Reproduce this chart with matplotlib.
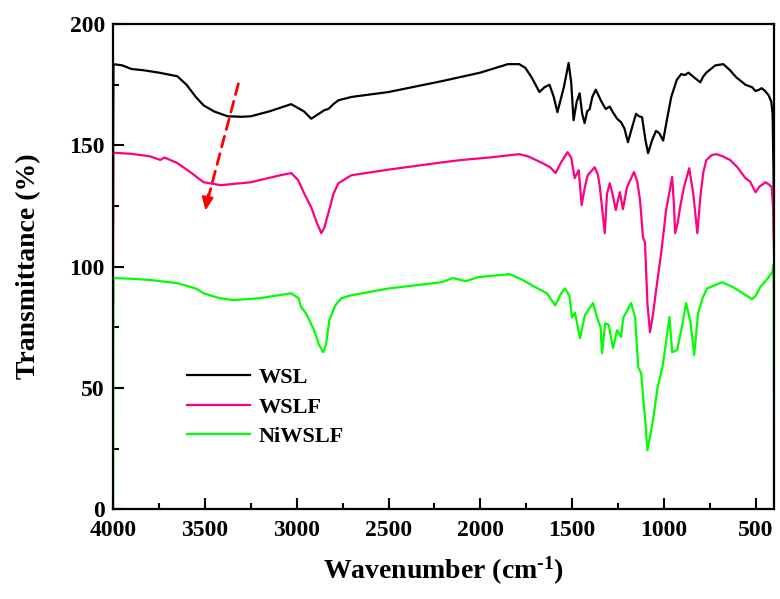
import matplotlib
matplotlib.use("Agg")
from matplotlib import pyplot as plt
from matplotlib.ticker import MultipleLocator

plt.rcParams['font.family'] = ['Liberation Serif', 'DejaVu Serif']
plt.rcParams['font.weight'] = 'bold'
plt.rcParams['mathtext.fontset'] = 'custom'
plt.rcParams['mathtext.rm'] = 'Liberation Serif:bold'
plt.rcParams['mathtext.bf'] = 'Liberation Serif:bold'
plt.rcParams['mathtext.default'] = 'bf'

# WSL (black)
wn_wsl = [4000, 3998, 3950, 3900, 3836, 3750, 3650, 3600, 3550, 3507, 3450, 3376,
          3300, 3250, 3150, 3030, 2960, 2921, 2880, 2850, 2828, 2800, 2773, 2700,
          2500, 2209, 2000, 1850, 1788, 1755, 1720, 1678, 1650, 1623, 1600, 1580,
          1545, 1519, 1505, 1492, 1475, 1459, 1445, 1432, 1418, 1404, 1390, 1371,
          1340, 1317, 1295, 1278, 1255, 1234, 1215, 1196, 1175, 1152, 1135, 1119,
          1100, 1086, 1065, 1043, 1025, 1004, 985, 960, 930, 906, 885, 867, 835,
          802, 785, 769, 720, 676, 640, 605, 580, 556, 520, 501, 480, 468, 450,
          430, 415, 408, 403, 400]
t_wsl = [148, 183.5, 183, 181.5, 181, 180, 178.5, 175, 170, 166.5, 164, 162,
         161.8, 162, 164, 167, 164, 161, 163, 164.5, 165, 167, 168.6, 170,
         172, 176.5, 180, 183.5, 183.5, 182, 178, 172, 174, 175, 170, 163.7,
         174, 184, 176, 160.4, 168, 171.5, 163, 159.2, 164, 165, 170, 173,
         168, 165, 166, 163.7, 161, 159.6, 157, 151.3, 157, 163, 162, 161.6,
         152, 146.8, 152, 156, 155, 152, 160, 170, 177, 179.4, 179, 180, 178,
         176, 178.5, 180, 183, 183.5, 181, 178, 176.5, 175, 174, 172.4, 173, 173.6, 172.5,
         170.7, 168, 163, 140, 110]

# WSLF (pink)
wn_wslf = [4000, 3998, 3900, 3800, 3743, 3720, 3650, 3580, 3507, 3414, 3250, 3100,
           3030, 2992, 2960, 2921, 2890, 2866, 2850, 2828, 2800, 2773, 2702, 2500,
           2209, 2100, 1950, 1788, 1734, 1662, 1620, 1590, 1560, 1525, 1505, 1486,
           1464, 1448, 1430, 1415, 1377, 1360, 1350, 1322, 1310, 1295, 1280, 1262,
           1240, 1223, 1201, 1163, 1145, 1130, 1114, 1103, 1090, 1076, 1060, 1043,
           1015, 988, 955, 945, 939, 925, 912, 890, 862, 840, 818, 800, 785, 769,
           740, 714, 680, 638, 600, 556, 530, 501, 480, 446, 430, 413, 405, 400]
t_wslf = [100, 147, 146.5, 145.5, 144, 145, 142.7, 139, 134.8, 133.6, 134.8, 137.5,
          138.6, 135.7, 130.3, 124.5, 118, 113.8, 116, 122, 130, 134.4, 137.7, 140,
          143, 144, 145, 146.4, 145.3, 142.7, 141, 138.6, 143, 147.2, 145, 136.5,
          139.8, 125.4, 133, 137.7, 141, 138, 133.6, 113.8, 130, 134.4, 130, 123.3,
          130.7, 123.7, 132.8, 139, 135, 127.4, 112, 110, 85, 73, 80, 90,
          105.6, 123.3, 137, 125, 113.8, 118, 124.5, 133, 140.6, 130, 113.8, 130, 139, 143.9,
          146, 146.4, 145.5, 143.9, 141, 136.5, 135, 130.7, 133, 134.8, 134, 132.8, 124.5, 105]

# NiWSLF (green)
wn_ni = [4000, 3998, 3900, 3800, 3650, 3550, 3507, 3420, 3345, 3200, 3030, 2990,
         2976, 2950, 2905, 2880, 2855, 2840, 2822, 2790, 2757, 2702, 2500, 2209,
         2150, 2080, 2010, 1838, 1767, 1712, 1637, 1592, 1560, 1538, 1515, 1500,
         1484, 1457, 1430, 1386, 1364, 1345, 1337, 1320, 1300, 1277, 1255, 1233,
         1222, 1179, 1157, 1140, 1124, 1100, 1090, 1070, 1057, 1035, 1008, 990,
         970, 955, 928, 900, 879, 855, 835, 814, 790, 765, 683, 623, 569, 520,
         500, 476, 433, 410, 405, 402, 400]
t_ni = [0, 95.3, 95, 94.5, 93.2, 91, 89, 87, 86.2, 87, 89, 87,
        83.3, 80.8, 73.8, 68, 64.7, 68, 78, 84, 87, 88.2, 91, 93.6,
        95.3, 94, 95.7, 96.9, 94.4, 92, 89, 84, 89, 91, 88, 79,
        81, 70.5, 80, 85, 79, 75, 64.3, 76.7, 75.9, 66.4, 73.8, 71,
        78.8, 85, 79.2, 58.6, 56, 35, 24.3, 32, 38, 49.9, 58.6, 68,
        79.2, 64.7, 65.6, 76, 85, 77, 63.5, 80.8, 87, 91, 93.6, 91.5, 89, 86.6,
        88, 91.5, 95.3, 97.7, 100.6, 90, 0]

fig = plt.figure(figsize=(7.8, 5.99), dpi=100)
ax = fig.add_axes([0.145, 0.150, 0.8474, 0.8097])

ax.plot(wn_wsl, t_wsl, c='black', lw=1.6, label='WSL')
ax.plot(wn_wslf, t_wslf, c='#FF0080', lw=1.6, label='WSLF')
ax.plot(wn_ni, t_ni, c='#00FF00', lw=1.6, label='NiWSLF')

# dashed red arrow
ax.annotate('', xy=(3490, 126), xytext=(3314, 176.5),
            arrowprops=dict(arrowstyle='-', color='red', lw=2, linestyle=(0, (4, 2.5))))
ax.annotate('', xy=(3499, 122), xytext=(3480, 131),
            arrowprops=dict(arrowstyle='-|>,head_length=0.8,head_width=0.35',
                            color='red', lw=1.5))

ax.set_xlim(4000, 400)
ax.set_ylim(0, 200)
ax.xaxis.set_major_locator(MultipleLocator(500))
ax.xaxis.set_minor_locator(MultipleLocator(250))
ax.yaxis.set_major_locator(MultipleLocator(50))
ax.yaxis.set_minor_locator(MultipleLocator(25))
ax.tick_params(which='both', direction='in', width=1.5, labelsize=17, pad=6)
ax.tick_params(axis='x', which='both', pad=8)
ax.tick_params(which='major', length=8)
ax.tick_params(which='minor', length=4)
for s in ax.spines.values():
    s.set_linewidth(1.6)

ax.set_xlabel('Wavenumber (cm$^{\\text{-}1}$)', fontsize=20, fontweight='bold', labelpad=10)
ax.set_ylabel('Transmittance (%)', fontsize=20, fontweight='bold', labelpad=20)

ax.legend(loc='center left', bbox_to_anchor=(0.082, 0.21), frameon=False,
          fontsize=16, handlelength=2.8, handletextpad=0.4, labelspacing=0.4)

fig.savefig('out.png', dpi=100)
